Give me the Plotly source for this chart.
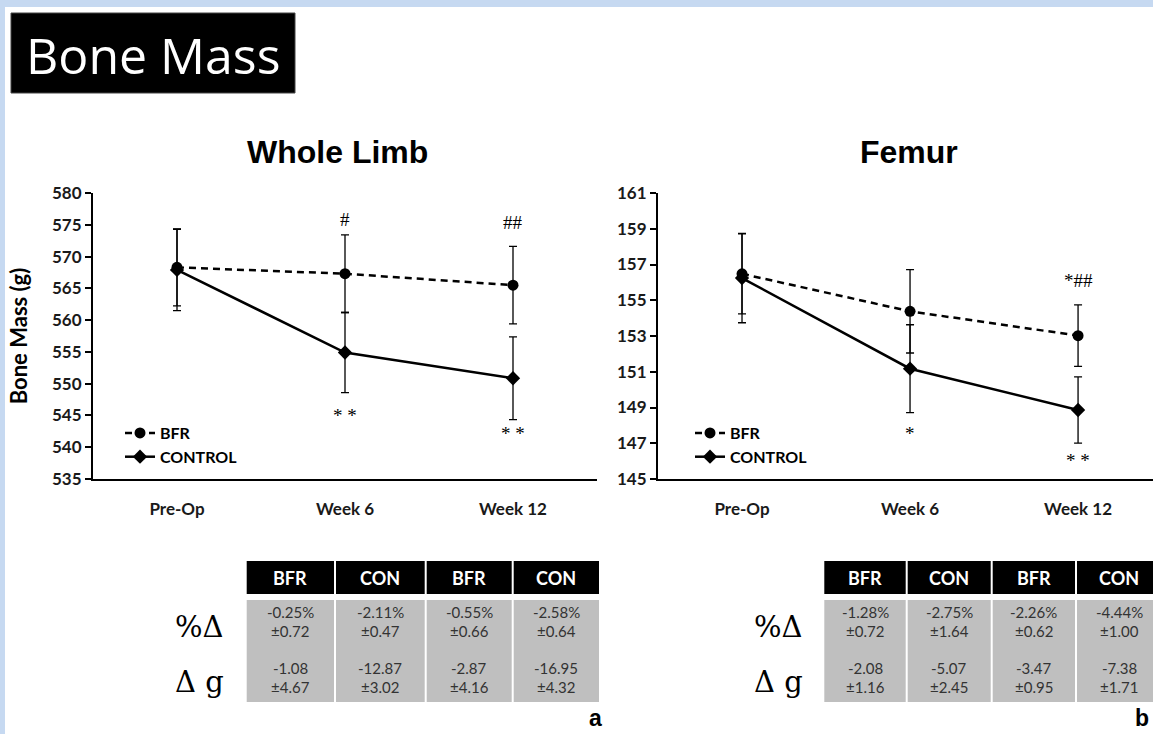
import plotly.graph_objects as go

# ---- data ----
timepoints = ["Pre-Op", "Week 6", "Week 12"]

limb_bfr = [568.3, 567.3, 565.5]
limb_bfr_sd = [6.05, 6.1, 6.1]
limb_con = [567.9, 554.9, 550.85]
limb_con_sd = [6.4, 6.3, 6.5]

femur_bfr = [156.48, 154.38, 153.02]
femur_bfr_sd = [2.24, 2.33, 1.72]
femur_con = [156.24, 151.17, 148.86]
femur_con_sd = [2.5, 2.46, 1.85]

# significance marks: (timepoint index, y value, text)
limb_marks = [(1, 575.9, "#"), (2, 575.4, "##"), (1, 545.0, "* *"), (2, 542.1, "* *")]
femur_marks = [(2, 156.1, "*##"), (1, 147.55, "*"), (2, 146.06, "* *")]

table_header = ["BFR", "CON", "BFR", "CON"]
row_labels = ["%\u0394", "\u0394 g"]
limb_pct = ["-0.25%", "-2.11%", "-0.55%", "-2.58%"]
limb_pct_sd = ["0.72", "0.47", "0.66", "0.64"]
limb_g = ["-1.08", "-12.87", "-2.87", "-16.95"]
limb_g_sd = ["4.67", "3.02", "4.16", "4.32"]
femur_pct = ["-1.28%", "-2.75%", "-2.26%", "-4.44%"]
femur_pct_sd = ["0.72", "1.64", "0.62", "1.00"]
femur_g = ["-2.08", "-5.07", "-3.47", "-7.38"]
femur_g_sd = ["1.16", "2.45", "0.95", "1.71"]

# ---- page geometry helpers (pixels -> paper fractions) ----
W, H = 1153, 734


def px(x):
    return x / W


def py(y):
    return 1 - y / H


CAL = "Lato, 'Open Sans', sans-serif"
ARIAL = "'Liberation Sans', Arial, sans-serif"
SERIF = "'Liberation Serif', 'Times New Roman', serif"

fig = go.Figure()


def add_series(xa, ya, bfr, bfr_sd, con, con_sd, legend):
    fig.add_trace(go.Scatter(
        x=timepoints, y=bfr, name="BFR", xaxis=xa, yaxis=ya, legend=legend,
        mode="lines+markers",
        line=dict(color="black", width=2.5, dash="7px,5px"),
        marker=dict(symbol="circle", size=11, color="black"),
        error_y=dict(type="data", array=bfr_sd, color="black", thickness=1.3, width=4),
    ))
    fig.add_trace(go.Scatter(
        x=timepoints, y=con, name="CONTROL", xaxis=xa, yaxis=ya, legend=legend,
        mode="lines+markers",
        line=dict(color="black", width=2.5),
        marker=dict(symbol="diamond", size=11, color="black"),
        error_y=dict(type="data", array=con_sd, color="black", thickness=1.3, width=4),
    ))


add_series("x", "y", limb_bfr, limb_bfr_sd, limb_con, limb_con_sd, "legend")
add_series("x2", "y2", femur_bfr, femur_bfr_sd, femur_con, femur_con_sd, "legend2")

ydom = [py(479), py(193)]
xcommon = dict(
    type="category", tickvals=timepoints, ticktext=timepoints,
    showline=True, linecolor="black", linewidth=2, ticks="", showgrid=False,
    zeroline=False, tickfont=dict(family=CAL, size=17, color="#1a1a1a", weight="bold"),
    ticklabelstandoff=14, fixedrange=True, automargin=False,
)
ycommon = dict(
    showline=True, linecolor="black", linewidth=2, ticks="outside", ticklen=6,
    tickwidth=2, tickcolor="black", showgrid=False, zeroline=False,
    tickfont=dict(family=CAL, size=17, color="#1a1a1a", weight="bold"), automargin=False,
)
legend_style = dict(xanchor="left", yanchor="top", bgcolor="rgba(0,0,0,0)",
                    font=dict(family=CAL, size=16, color="black", weight="bold"),
                    itemwidth=30, tracegroupgap=0)

fig.update_layout(
    width=W, height=H, margin=dict(l=0, r=0, t=0, b=0, pad=0, autoexpand=False),
    paper_bgcolor="#c6d9f1", plot_bgcolor="white", showlegend=True,
    xaxis=dict(domain=[px(93), px(597)], range=[-0.5, 2.5], anchor="y", **xcommon),
    yaxis=dict(domain=ydom, range=[535, 580], dtick=5, anchor="x",
               title=dict(text="Bone Mass (g)",
                          font=dict(family=CAL, size=22, color="black", weight="bold"), standoff=18),
               **ycommon),
    xaxis2=dict(domain=[px(658), 1.0], range=[-0.5, 2.446], anchor="y2", **xcommon),
    yaxis2=dict(domain=ydom, range=[145, 161], tick0=145, dtick=2, anchor="x2", **ycommon),
    legend=dict(x=px(120), y=py(416), **legend_style),
    legend2=dict(x=px(690), y=py(416), **legend_style),
)

shapes = []
annotations = []

# white page with light-blue border strips
shapes.append(dict(type="rect", xref="paper", yref="paper", x0=px(5), x1=1.01, y0=-0.01, y1=py(7),
                   fillcolor="white", line=dict(width=0), layer="below"))

# heading box
shapes.append(dict(type="rect", xref="paper", yref="paper", x0=px(11), x1=px(295), y0=py(93), y1=py(13),
                   fillcolor="black", line=dict(color="#444", width=1)))
annotations.append(dict(xref="paper", yref="paper", x=px(153), y=py(55), text="Bone Mass",
                        showarrow=False, font=dict(family="'Open Sans', sans-serif", size=50, color="white"),
                        xanchor="center", yanchor="middle"))

# chart titles
for xc, name in ((337, "Whole Limb"), (909, "Femur")):
    annotations.append(dict(xref="paper", yref="paper", x=px(xc), y=py(152), text="<b>" + name + "</b>",
                            showarrow=False, font=dict(family=ARIAL, size=32, color="black"),
                            xanchor="center", yanchor="middle"))

# significance marks
for xa, ya, marks in (("x", "y", limb_marks), ("x2", "y2", femur_marks)):
    for i, yv, txt in marks:
        annotations.append(dict(xref=xa, yref=ya, x=timepoints[i], y=yv, text=txt, showarrow=False,
                                font=dict(family=SERIF, size=19, color="black"),
                                xanchor="center", yanchor="middle"))


def add_table(cols, label_right, pct, pct_sd, g, g_sd):
    for c in range(4):
        x0, x1 = cols[c] + 1, cols[c + 1] - 1
        shapes.append(dict(type="rect", xref="paper", yref="paper", x0=px(x0), x1=px(x1),
                           y0=py(594), y1=py(561), fillcolor="black", line=dict(width=0)))
        shapes.append(dict(type="rect", xref="paper", yref="paper", x0=px(x0), x1=px(x1),
                           y0=py(702), y1=py(600), fillcolor="#bfbfbf", line=dict(width=0)))
        xc = px((cols[c] + cols[c + 1]) / 2)
        annotations.append(dict(xref="paper", yref="paper", x=xc, y=py(578), text=table_header[c],
                                showarrow=False, font=dict(family=CAL, size=18, color="white", weight="bold"),
                                xanchor="center", yanchor="middle"))
        for yy, txt in ((612, pct[c]), (631, "\u00b1" + pct_sd[c]), (668, g[c]), (687, "\u00b1" + g_sd[c])):
            annotations.append(dict(xref="paper", yref="paper", x=xc, y=py(yy), text=txt, showarrow=False,
                                    font=dict(family=CAL, size=15, color="#333333"),
                                    xanchor="center", yanchor="middle"))
    for yy, lab in ((627, row_labels[0]), (682, row_labels[1])):
        annotations.append(dict(xref="paper", yref="paper", x=px(label_right), y=py(yy), text=lab,
                                showarrow=False, font=dict(family="'DejaVu Serif', serif", size=29, color="black"),
                                xanchor="right", yanchor="middle"))


add_table([245.7, 335, 425.7, 512.7, 600], 226, limb_pct, limb_pct_sd, limb_g, limb_g_sd)
add_table([823.3, 906.7, 991.7, 1076, 1162], 805, femur_pct, femur_pct_sd, femur_g, femur_g_sd)

# panel letters
annotations.append(dict(xref="paper", yref="paper", x=px(595), y=py(718), text="<b>a</b>", showarrow=False,
                        font=dict(family=ARIAL, size=23, color="black"), xanchor="center", yanchor="middle"))
annotations.append(dict(xref="paper", yref="paper", x=px(1151), y=py(718), text="<b>b</b>", showarrow=False,
                        font=dict(family=ARIAL, size=23, color="black"), xanchor="right", yanchor="middle"))

fig.update_layout(shapes=shapes, annotations=annotations)
fig.write_html("out.html")
